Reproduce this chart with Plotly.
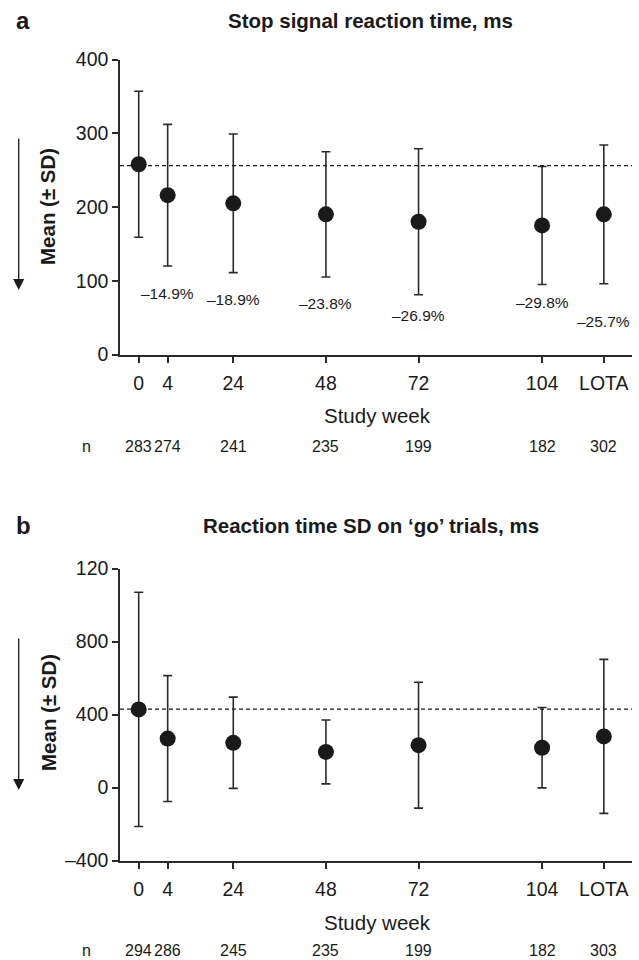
import plotly.graph_objects as go

# ---------------- data ----------------
week_labels = ["0", "4", "24", "48", "72", "104", "LOTA"]
week_pos = [-0.5, 7, 24, 48, 72, 104, 120]   # axis slot of each visit

ssrt_mean = [258, 216, 205, 190, 180, 175, 190]
ssrt_sd = [99, 96, 94, 85, 99, 80, 94]
ssrt_baseline = 256
ssrt_change = ["–14.9%", "–18.9%", "–23.8%", "–26.9%", "–29.8%", "–25.7%"]
ssrt_change_y = [83, 74, 69, 53, 70, 45]
ssrt_n = [283, 274, 241, 235, 199, 182, 302]

rtsd_mean = [428, 268, 245, 195, 232, 218, 280]
rtsd_sd = [642, 345, 250, 175, 345, 220, 422]
rtsd_baseline = 429
rtsd_n = [294, 286, 245, 235, 199, 182, 303]

ya_ticks = [0, 100, 200, 300, 400]
ya_text = ["0", "100", "200", "300", "400"]
yb_ticks = [-400, 0, 400, 800, 1200]
yb_text = ["–400", "0", "400", "800", "120"]

# ---------------- style ----------------
W, H = 639, 960
FONT = "Liberation Sans, Arial, sans-serif"
INK = "#1a1a1a"
AX = "#2a2a2a"


def px(x):
    return x / W


def py(y):
    return 1 - y / H


fig = go.Figure()

for mean, sd, xa, ya in [(ssrt_mean, ssrt_sd, "x", "y"), (rtsd_mean, rtsd_sd, "x2", "y2")]:
    fig.add_trace(go.Scatter(
        x=week_pos, y=mean, mode="markers", xaxis=xa, yaxis=ya,
        marker=dict(size=16, color=INK),
        error_y=dict(type="data", array=sd, visible=True, color=AX,
                     thickness=1.6, width=4.5),
        showlegend=False, hoverinfo="skip"))

xcommon = dict(range=[-5.35, 127.3], tickvals=week_pos, ticktext=week_labels,
               showline=True, linecolor=AX, linewidth=1.5, ticks="outside",
               ticklen=7, tickwidth=1.5, tickcolor=AX, showgrid=False,
               zeroline=False, ticklabelstandoff=3, automargin=False,
               tickfont=dict(family=FONT, size=19.5, color=INK))
ycommon = dict(showline=True, linecolor=AX, linewidth=1.5, ticks="outside",
               ticklen=6, tickwidth=1.5, tickcolor=AX, showgrid=False,
               zeroline=False, ticklabelstandoff=0, automargin=False,
               tickfont=dict(family=FONT, size=19.5, color=INK))

xd = [px(120), px(632)]
fig.update_layout(
    template="none",
    width=W, height=H,
    margin=dict(l=0, r=0, t=0, b=0, pad=0, autoexpand=False),
    paper_bgcolor="white", plot_bgcolor="white",
    xaxis=dict(domain=xd, anchor="y", **xcommon),
    yaxis=dict(domain=[py(354.5), py(59.5)], anchor="x", range=[0, 400],
               tickvals=ya_ticks, ticktext=ya_text, **ycommon),
    xaxis2=dict(domain=xd, anchor="y2", **xcommon),
    yaxis2=dict(domain=[py(860.5), py(568.5)], anchor="x2", range=[-400, 1200],
                tickvals=yb_ticks, ticktext=yb_text, **ycommon),
)

# baselines
for ya, base in [("y", ssrt_baseline), ("y2", rtsd_baseline)]:
    xa = "x" if ya == "y" else "x2"
    fig.add_shape(type="line", xref=f"{xa} domain", yref=ya, x0=0, x1=1,
                  y0=base, y1=base, line=dict(color=INK, width=1.2, dash="4px,3px"))

ann = []


def text(x, y, t, size, xref="paper", yref="paper", xanchor="center", **kw):
    ann.append(dict(x=x, y=y, xref=xref, yref=yref, text=t, showarrow=False,
                    xanchor=xanchor, yanchor="middle",
                    font=dict(family=FONT, size=size, color=INK), **kw))


# percentage change labels (panel a)
for xv, txt, yv in zip(week_pos[1:], ssrt_change, ssrt_change_y):
    text(xv, yv, txt, 15.5, xref="x", yref="y")

panels = [
    dict(letter="a", title="Stop signal reaction time, ms", ty=20, n=ssrt_n,
         tickaxis="x", sw=415, ny=446, ylab=207, arrow=(137, 290)),
    dict(letter="b", title="Reaction time SD on ‘go’ trials, ms", ty=525, n=rtsd_n,
         tickaxis="x2", sw=922, ny=950, ylab=713, arrow=(637, 790)),
]
for p in panels:
    text(px(14), py(p["ty"]), f"<b>{p['letter']}</b>", 24, xanchor="left")
    text(px(370.5), py(p["ty"]), f"<b>{p['title']}</b>", 20.5)
    text(px(377), py(p["sw"]), "Study week", 20.5)
    text(px(86), py(p["ny"]), "n", 16)
    for xv, nv in zip(week_pos, p["n"]):
        text(xv, py(p["ny"]), str(nv), 16, xref=p["tickaxis"])
    text(px(48), py(p["ylab"]), "<b>Mean (± SD)</b>", 20.5, textangle=-90)
    t0, t1 = p["arrow"]
    ann.append(dict(x=px(18.7), y=py(t1), xref="paper", yref="paper", text="",
                    showarrow=True, ax=0, ay=-(t1 - t0), arrowhead=2,
                    arrowsize=1.7, arrowwidth=1.3, arrowcolor=INK))

fig.update_layout(annotations=ann)
fig.write_html("out.html",
               config={"displayModeBar": False},
               post_script="document.body.style.margin='0px';"
                           "document.body.style.overflow='hidden';")
